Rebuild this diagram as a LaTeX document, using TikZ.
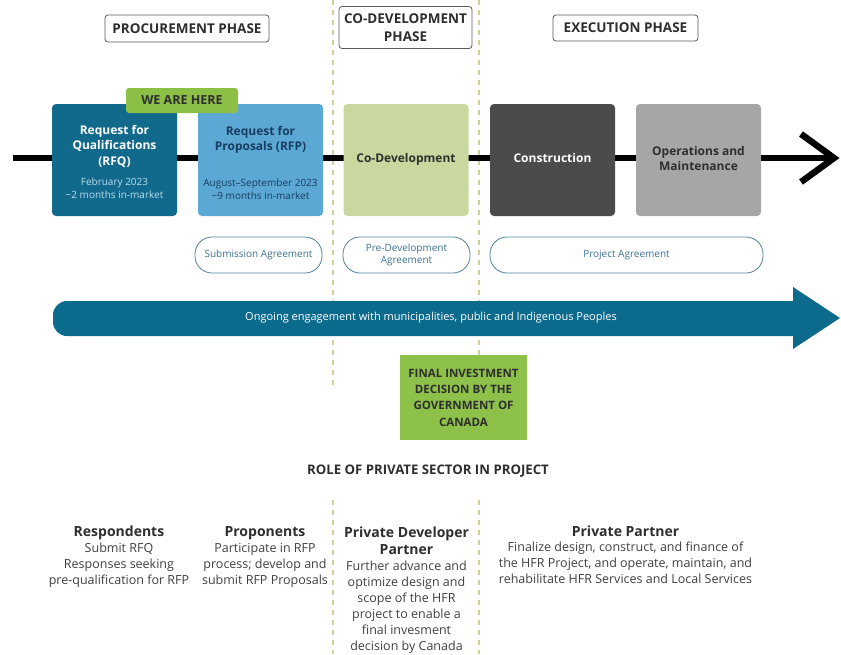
\documentclass[tikz,border=0pt]{standalone}
\usepackage{fontspec}
\setmainfont{Open Sans}
\newcommand\fsz[2]{\fontsize{#1}{#2}\selectfont}
\definecolor{rfqc}{HTML}{11698C}
\definecolor{rfpc}{HTML}{5CA8D4}
\definecolor{codevc}{HTML}{C8D89F}
\definecolor{constrc}{HTML}{4B4B4B}
\definecolor{omc}{HTML}{A6A6A6}
\definecolor{herec}{HTML}{8CBF45}
\definecolor{fidc}{HTML}{8DC149}
\definecolor{arrowc}{HTML}{0C6A8D}
\definecolor{agrc}{HTML}{4F8198}
\definecolor{agrt}{HTML}{3A7190}
\definecolor{dashc}{HTML}{D2D19C}
\definecolor{rfqsub}{HTML}{B7DDF0}
\definecolor{rfpt}{HTML}{173E60}
\definecolor{darkt}{HTML}{2E2E2E}
\tikzset{
  phasebox/.style={draw=black!65, rounded corners=3pt, line width=0.8pt, fill=white,
    font=\fsz{13.5}{18}\bfseries, text=darkt, align=center, inner sep=0pt},
  stagebox/.style={rounded corners=4pt, minimum width=125pt, minimum height=112pt, inner sep=0pt},
  ttl/.style={font=\fsz{12}{15.5}\bfseries, align=center, inner sep=0pt},
  subt/.style={font=\fsz{10}{12.5}\selectfont, align=center, inner sep=0pt},
  agree/.style={draw=agrc, rounded corners=17pt, line width=0.8pt, minimum height=36pt,
    align=center, text=agrt, font=\fsz{10}{12}\selectfont, inner sep=0pt},
  phaseline/.style={draw=dashc, line width=1.2pt, dash pattern=on 5pt off 5pt},
  roletitle/.style={font=\fsz{14}{17}\bfseries, text=darkt, align=center, inner sep=0pt, anchor=north},
  rolebody/.style={font=\fsz{12.5}{16}\selectfont, text=black!75, align=center, inner sep=0pt, anchor=north},
}
\begin{document}
\begin{tikzpicture}[x=1pt,y=-1pt]
\useasboundingbox (0,0) rectangle (841,654);
% phase separators
\coordinate (d1t) at (333,0); \coordinate (d1m) at (333,385);
\coordinate (d1b) at (333,500); \coordinate (d1e) at (333,654);
\coordinate (d2t) at (479,0); \coordinate (d2m) at (479,355);
\coordinate (d2b) at (479,500); \coordinate (d2e) at (479,654);
\draw[phaseline] (d1t) -- (d1m);
\draw[phaseline] (d1b) -- (d1e);
\draw[phaseline] (d2t) -- (d2m);
\draw[phaseline] (d2b) -- (d2e);
% phase labels
\node[phasebox, minimum width=164pt, minimum height=27pt] (pp) at (187,28.5) {PROCUREMENT PHASE};
\node[phasebox, minimum width=133pt, minimum height=42pt] (cp) at (405.5,27.5) {CO-DEVELOPMENT\\PHASE};
\node[phasebox, minimum width=145pt, minimum height=26pt] (ep) at (625.5,28) {EXECUTION PHASE};
% timeline
\coordinate (tl0) at (13,158); \coordinate (tl1) at (834,158);
\coordinate (chA) at (801,134); \coordinate (chB) at (801,182);
\draw[line width=6pt] (tl0) -- (tl1);
\draw[line width=6.5pt, miter limit=10] (chA) -- (tl1) -- (chB);
% stages
\node[stagebox, fill=rfqc] (rfq) at (114.5,160) {};
\node[stagebox, fill=rfpc] (rfp) at (260.5,160) {};
\node[stagebox, fill=codevc] (codev) at (406,160) {};
\node[stagebox, fill=constrc] (constr) at (552.5,160) {};
\node[stagebox, fill=omc] (om) at (698.5,160) {};
\node[ttl, text=white, anchor=north] (rfqT) at (114.5,125) {Request for\\Qualifications\\(RFQ)};
\node[subt, text=rfqsub, anchor=north] (rfqS) at (114.5,178) {February 2023\\\textasciitilde 2 months in-market};
\node[ttl, text=rfpt, anchor=north] (rfpT) at (260.5,126) {Request for\\Proposals (RFP)};
\node[subt, text=rfpt, anchor=north] (rfpS) at (260.5,179) {August–September 2023\\\textasciitilde 9 months in-market};
\node[ttl, text=darkt] (codevT) at (406,159) {Co-Development};
\node[ttl, text=white] (constrT) at (552.5,158) {Construction};
\node[ttl, text=darkt] (omT) at (698.5,158.5) {Operations and\\Maintenance};
\node[fill=herec, rounded corners=3pt, minimum width=112pt, minimum height=25pt, inner sep=0pt,
  font=\fsz{12.5}{15}\bfseries, text=darkt] (here) at (182,100.5) {WE ARE HERE};
% agreements
\node[agree, minimum width=127pt] (sa) at (258.5,255) {Submission Agreement};
\node[agree, minimum width=127pt] (pda) at (406.5,255) {Pre-Development\\Agreement};
\node[agree, minimum width=273pt] (pa) at (626.5,255) {Project Agreement};
% engagement arrow
\fill[arrowc] (400,301) -- (793,301) -- (793,287) -- (840,318) -- (793,349) -- (793,336) -- (400,336)
  [rounded corners=14pt] -- (53,336) -- (53,301) -- cycle;
\node[font=\fsz{11}{13}\selectfont, text=white, inner sep=0pt] (eng) at (431,318)
  {Ongoing engagement with municipalities, public and Indigenous Peoples};
% final investment decision
\node[fill=fidc, minimum width=127pt, minimum height=85pt, inner sep=0pt, align=center,
  font=\fsz{11.5}{16.3}\bfseries, text=darkt] (fid) at (463.5,397.5)
  {FINAL INVESTMENT\\DECISION BY THE\\GOVERNMENT OF\\CANADA};
\node[font=\fsz{13.2}{15}\bfseries, text=darkt, inner sep=0pt] (role) at (428,471) {ROLE OF PRIVATE SECTOR IN PROJECT};
% roles
\node[roletitle] (respT) at (119,526) {Respondents};
\node[rolebody] (respB) at (119,543) {Submit RFQ\\Responses seeking\\pre-qualification for RFP};
\node[roletitle] (propT) at (265,526) {Proponents};
\node[rolebody] (propB) at (265,543) {Participate in RFP\\process; develop and\\submit RFP Proposals};
\node[roletitle] (pdpT) at (406.5,527) {Private Developer\\Partner};
\node[rolebody] (pdpB) at (406.5,561) {Further advance and\\optimize design and\\scope of the HFR\\project to enable a\\final invesment\\decision by Canada};
\node[roletitle] (ppT) at (625.5,526) {Private Partner};
\node[rolebody] (ppB) at (625.5,542) {Finalize design, construct, and finance of\\the HFR Project, and operate, maintain, and\\rehabilitate HFR Services and Local Services};
\end{tikzpicture}
\end{document}
